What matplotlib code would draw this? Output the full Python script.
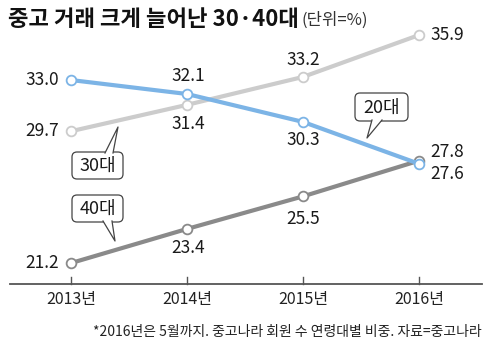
import matplotlib
matplotlib.use('Agg')
import matplotlib.pyplot as plt
from matplotlib.patches import FancyBboxPatch, Polygon
from matplotlib.transforms import Affine2D

plt.rcParams['font.family'] = ['Noto Sans CJK KR', 'DejaVu Sans']

years = [2013, 2014, 2015, 2016]
year_labels = ['2013년', '2014년', '2015년', '2016년']
age20 = [33.0, 32.1, 30.3, 27.6]
age30 = [29.7, 31.4, 33.2, 35.9]
age40 = [21.2, 23.4, 25.5, 27.8]

c20 = '#7cb4e6'
c30 = '#cccccc'
c40 = '#8a8a8a'
tc = '#1a1a1a'

fig = plt.figure(figsize=(5, 3.49), dpi=100)
ax = fig.add_axes([10 / 500, 1 - 284 / 349, 472 / 500, 284 / 349])
ax.set_xlim(2012.474, 2016.543)
ax.set_ylim(19.85, 38.16)
ax.axis('off')

# pixel coords (origin top-left) -> display
px = Affine2D().scale(1 / 100, -1 / 100).translate(0, 3.49) + fig.dpi_scale_trans

for vals, col, z in [(age30, c30, 2), (age40, c40, 3), (age20, c20, 4)]:
    ax.plot(years, vals, color=col, lw=3, zorder=z, solid_capstyle='butt')
    ax.plot(years, vals, 'o', ms=7, mfc='white', mec=col, mew=1.3, zorder=z + 0.5)

# axis line and ticks
ax.plot([2012.474, 2016.543], [19.85, 19.85], color='#555555', lw=1.3, clip_on=False)
for x in years:
    ax.plot([x, x], [19.85, 20.3], color='#555555', lw=1.0, clip_on=False)
for x, lab in zip(years, year_labels):
    ax.annotate(lab, (x, 19.85), xytext=(0, -11), textcoords='offset points',
                ha='center', va='center', fontsize=11.5, color='#222222')

fs = 12.5
def lab(x, y, txt, dx, dy, ha='center'):
    ax.annotate(txt, (x, y), xytext=(dx, dy), textcoords='offset points',
                ha=ha, va='center', fontsize=fs, color=tc)

# left column
lab(2013, age20[0], '33.0', -21, 0)
lab(2013, age30[0], '29.7', -21, 0)
lab(2013, age40[0], '21.2', -21, 0)
# 2014
lab(2014, age20[1], '32.1', 1, 13)
lab(2014, age30[1], '31.4', 1, -14)
lab(2014, age40[1], '23.4', 1, -14)
# 2015
lab(2015, age30[2], '33.2', 0, 12)
lab(2015, age20[2], '30.3', 0, -13)
lab(2015, age40[2], '25.5', 0, -16)
# 2016
lab(2016, age30[3], '35.9', 8, 0, 'left')
lab(2016, age40[3], '27.8', 8, 6, 'left')
lab(2016, age20[3], '27.6', 8, -7, 'left')

# callouts: box (x0, y0, x1, y1), pointer base, tip  -- in pixels
callouts = [
    ('30대', (72, 152, 123, 179), [(105, 153), (113, 153)], (118, 127)),
    ('40대', (72, 195, 123, 222), [(103, 221), (112, 221)], (115, 241)),
    ('20대', (355, 93, 408, 121), [(372, 120), (382, 120)], (367, 138)),
]
ec = '#444444'
for txt, (x0, y0, x1, y1), base, tip in callouts:
    r = FancyBboxPatch((x0, y0), x1 - x0, y1 - y0, boxstyle='round,pad=0,rounding_size=5',
                       transform=px, fc='white', ec=ec, lw=0.9, zorder=6)
    fig.add_artist(r)
    fig.add_artist(Polygon([base[0], tip, base[1]], closed=True, transform=px,
                           fc='white', ec='none', zorder=6.5))
    fig.add_artist(plt.Line2D([base[0][0], tip[0], base[1][0]], [base[0][1], tip[1], base[1][1]],
                              transform=px, color=ec, lw=0.9, zorder=6.6))
    fig.text((x0 + x1) / 2 / 500, 1 - ((y0 + y1) / 2 + 0.5) / 349, txt, ha='center', va='center',
             fontsize=13, color=tc, zorder=7)

# title
t = fig.text(0.016, 1 - 19 / 349, '중고 거래 크게 늘어난 30·40대', fontsize=16,
             fontweight='bold', ha='left', va='center', color='#111111')
fig.canvas.draw()
bb = t.get_window_extent()
fig.text(bb.x1 / fig.bbox.width + 0.006, 1 - 20 / 349, '(단위=%)', fontsize=12,
         ha='left', va='center', color='#333333')

fig.text(482 / 500, 1 - 332 / 349, '*2016년은 5월까지. 중고나라 회원 수 연령대별 비중. 자료=중고나라',
         fontsize=10, ha='right', va='center', color='#222222')

fig.savefig('out.png', dpi=100, facecolor='white')
